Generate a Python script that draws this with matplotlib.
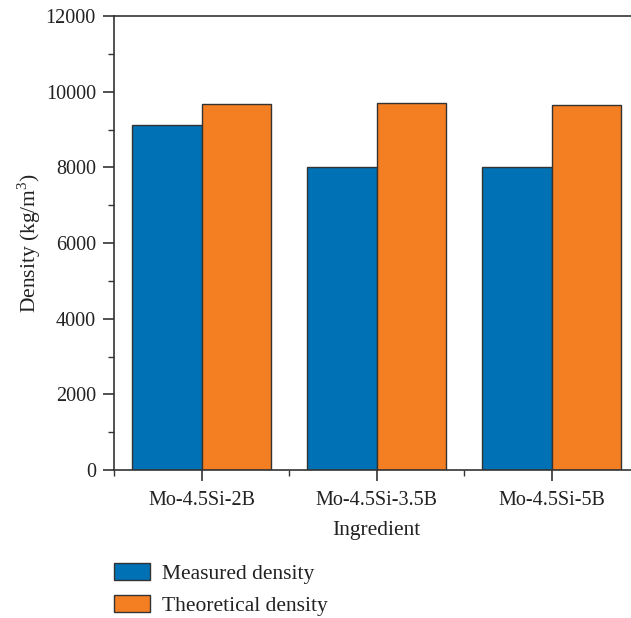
import matplotlib
matplotlib.use("Agg")
import matplotlib.pyplot as plt
import numpy as np
from matplotlib.ticker import MultipleLocator, FixedLocator

categories = ["Mo-4.5Si-2B", "Mo-4.5Si-3.5B", "Mo-4.5Si-5B"]
measured = [9120, 8010, 8010]
theoretical = [9675, 9700, 9640]
series_names = ["Measured density", "Theoretical density"]

plt.rcParams['font.family'] = ['Liberation Serif', 'DejaVu Serif']
plt.rcParams['mathtext.fontset'] = 'custom'
plt.rcParams['mathtext.rm'] = 'Liberation Serif'

W, H = 631, 618
fig = plt.figure(figsize=(W/100, H/100), dpi=100)
ax = fig.add_axes([114/W, (618-470)/H, 525/W, 454/H])

x = np.arange(len(categories))
bw = 0.395
c_blue = "#0071B4"
c_orange = "#F47E22"
edge = "#333333"
b1 = ax.bar(x - bw/2, measured, bw, color=c_blue, edgecolor=edge, linewidth=1.0, label=series_names[0])
b2 = ax.bar(x + bw/2, theoretical, bw, color=c_orange, edgecolor=edge, linewidth=1.0, label=series_names[1])

ax.set_xlim(-0.5, 2.5)
ax.set_ylim(0, 12000)
ax.set_xticks(x)
ax.set_xticklabels(categories)
ax.xaxis.set_minor_locator(FixedLocator([-0.5, 0.5, 1.5, 2.5]))
ax.yaxis.set_major_locator(MultipleLocator(2000))
ax.yaxis.set_minor_locator(MultipleLocator(1000))

for s in ['left', 'bottom', 'top']:
    ax.spines[s].set_linewidth(1.2)
    ax.spines[s].set_color('#333333')
ax.spines['right'].set_visible(False)

ax.tick_params(axis='both', which='major', direction='out', length=8, width=1.2, color='#333333', labelsize=14.5, labelcolor='#222222')
ax.tick_params(axis='both', which='minor', direction='out', length=4, width=1.0, color='#333333')
ax.tick_params(axis='x', which='major', pad=7)
ax.tick_params(axis='y', which='major', pad=5)

ax.set_xlabel("Ingredient", fontsize=15.5, color='#222222', labelpad=8)
ax.set_ylabel("Density (kg/m$^3$)", fontsize=15.5, color='#222222', labelpad=2)

fig.legend(handles=[b1, b2], labels=series_names, loc='upper left',
           bbox_to_anchor=(114/W, 1 - 563/H), frameon=False, fontsize=15.5,
           handlelength=1.67, handleheight=0.84, handletextpad=0.56,
           labelspacing=0.5, borderaxespad=0, borderpad=0, labelcolor='#222222')

fig.savefig("out.png", dpi=100)
